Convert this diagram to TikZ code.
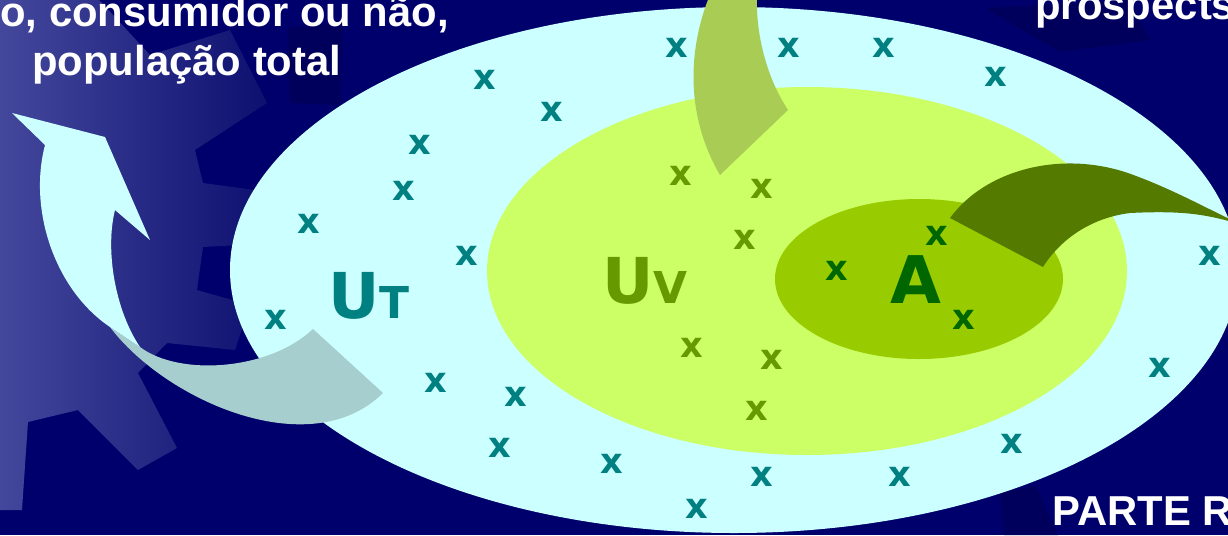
\documentclass[tikz,border=0pt]{standalone}
\usepackage{fontspec}
\newfontfamily\bannerfont{Liberation Sans}
\newfontfamily\letterfont{DejaVu Sans}

\definecolor{navybg}{RGB}{0,0,108}
\definecolor{navydk}{RGB}{0,0,92}
\definecolor{gearL}{RGB}{68,72,156}
\definecolor{gearR}{RGB}{14,16,112}
\definecolor{setT}{RGB}{204,255,255}
\definecolor{setV}{RGB}{204,255,102}
\definecolor{setA}{RGB}{153,204,0}
\definecolor{arrFront}{RGB}{204,255,255}
\definecolor{arrBack}{RGB}{166,206,206}
\definecolor{arrTop}{RGB}{168,204,84}
\definecolor{arrRight}{RGB}{84,122,0}
\definecolor{tealx}{RGB}{0,128,128}
\definecolor{olivex}{RGB}{102,153,0}
\definecolor{greenx}{RGB}{0,102,0}

\begin{document}
\begin{tikzpicture}[
  x=0.02cm, y=-0.02cm,
  banner/.style = {text=white, inner sep=0pt, anchor=base west,
                   font=\bannerfont\bfseries\fontsize{23.8}{28}\selectfont},
  xmk/.style    = {inner sep=0pt, font=\letterfont\bfseries\fontsize{20}{20}\selectfont},
  setlbl/.style = {inner sep=0pt, font=\letterfont\bfseries\fontsize{36}{36}\selectfont},
]

  % ── background and gear ───────────────────────────────────────────────
  \useasboundingbox (0,0) rectangle (1228,535);
  \clip (0,0) rectangle (1228,535);
  \fill[navybg] (0,0) rectangle (1228,535);
  \fill[navydk] (288,28) -- (343,22) -- (340,105) -- (290,103) -- cycle;
  \fill[navydk] (985,8) -- (1130,0) -- (1150,40) -- (1060,52) -- cycle;
  \fill[navydk] (1000,492) -- (1036,486) -- (1058,535) -- (1004,535) -- cycle;

  \shade[left color=gearL, right color=gearR]
    (0,-10) -- (90,-10) -- (150,55) -- (230,30) -- (267,103) -- (195,150)
    -- (203,183) -- (255,190) -- (240,245) -- (203,247) -- (197,290)
    -- (250,305) -- (235,350) -- (167,343) -- (138,373) -- (177,448)
    -- (138,470) -- (78,410) -- (28,422) -- (22,510) -- (0,510) -- cycle;

  % ── texts at the slide edges ──────────────────────────────────────────
  \node[banner] (univA) at (0,26)     {o, consumidor ou não,};
  \node[banner] (univB) at (32,75)    {população total};
  \node[banner] (prosp) at (1035,19)  {prospects};
  \node[banner] (parte) at (1052,525) {PARTE R};

  % ── nested sets ───────────────────────────────────────────────────────
  \fill[setT] (734,270) ellipse [x radius=504, y radius=263];
  \fill[setV] (807,271) ellipse [x radius=320, y radius=184];
  \fill[setA] (919,279) ellipse [x radius=144, y radius=80];

  % ── curved ribbons ────────────────────────────────────────────────────
  \fill[arrBack] (110,327) -- (140,347) .. controls (180,377) and (270,370) .. (313,329)
    -- (383,393) .. controls (310,465) and (165,400) .. (110,327) -- cycle;
  \fill[arrFront] (12,113) -- (105,137) -- (150,240) -- (115,210)
    .. controls (105,250) and (115,310) .. (140,347) -- (110,327)
    .. controls (55,290) and (28,210) .. (45,145) -- cycle;

  \fill[arrTop] (712,-10) .. controls (690,40) and (682,110) .. (720,175)
    -- (788,110) .. controls (765,75) and (755,30) .. (757,-10) -- cycle;

  \fill[arrRight] (950,218) .. controls (985,170) and (1060,150) .. (1128,173)
    .. controls (1170,188) and (1200,205) .. (1240,224)
    .. controls (1210,216) and (1190,210) .. (1130,213)
    .. controls (1090,218) and (1060,240) .. (1043,267) -- cycle;

  % ── set names ─────────────────────────────────────────────────────────
  \node[setlbl, text=tealx, anchor=base west] (lblT) at (328,318)
       {U{\fontsize{25}{25}\selectfont T}};
  \node[setlbl, text=olivex, anchor=base west] (lblV) at (602,303)
       {U{\fontsize{25}{25}\selectfont V}};
  \node[setlbl, text=greenx, anchor=base] (lblA) at (916,303)
       {\fontsize{37.4}{38}\selectfont A};

  % ── individuals ───────────────────────────────────────────────────────
  \foreach \px/\py [count=\i] in {677/48, 789/48, 884/48, 996/77, 485/80,
      552/112, 420/145, 404/191, 309/224, 467/256, 276/320, 1210/256,
      1160/368, 436/383, 516/397, 500/448, 612/464, 697/509, 762/477,
      900/477, 1012/444}
    \node[xmk, text=tealx] (xt\i) at (\px,\py) {x};
  \foreach \px/\py [count=\i] in {681/176, 762/189, 745/240, 692/348,
      772/360, 757/411}
    \node[xmk, text=olivex] (xv\i) at (\px,\py) {x};
  \foreach \px/\py [count=\i] in {837/271, 937/236, 964/320}
    \node[xmk, text=greenx] (xa\i) at (\px,\py) {x};

\end{tikzpicture}
\end{document}
